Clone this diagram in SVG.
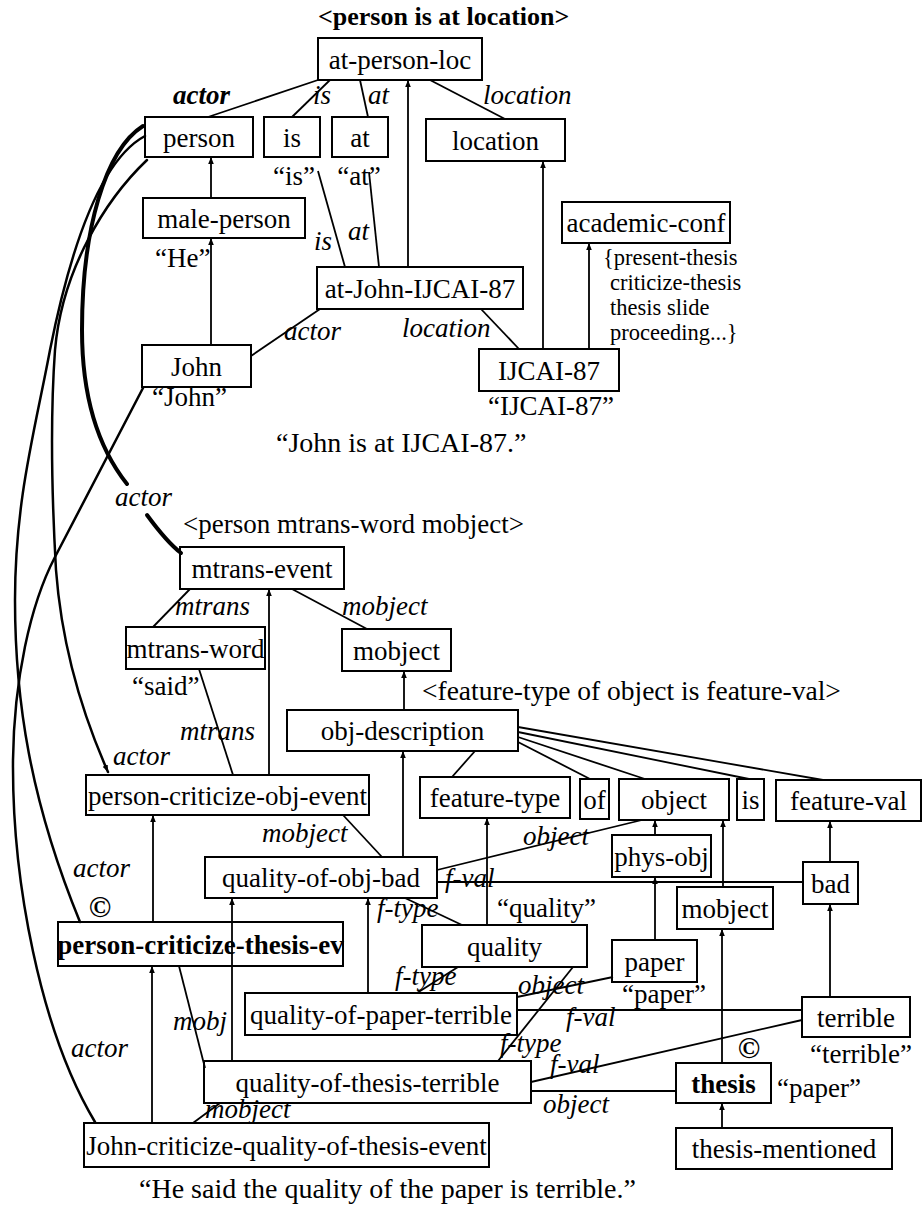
<svg xmlns="http://www.w3.org/2000/svg" width="923" height="1214" viewBox="0 0 923 1214">
<style>
text{font-family:"Liberation Serif","Times New Roman",serif;fill:#000}
.n rect{fill:#fff;stroke:#000;stroke-width:2}
.n text{font-size:27px;text-anchor:middle}
.bt{font-weight:bold}
.lb{font-size:27px;font-style:italic}
.q{font-size:27px}
.br{font-size:22.5px}
.cap{font-size:28px}
.e line,.e path{stroke:#000;stroke-width:1.8;fill:none}
.e .a{marker-end:url(#ah)}
.e .c{stroke-width:2.5;stroke-linecap:round}
.e .ck{stroke-width:4;stroke-linecap:round}
</style>
<defs>
<marker id="ah" viewBox="0 0 10 10" refX="10" refY="5" markerWidth="7" markerHeight="7" orient="auto" markerUnits="userSpaceOnUse"><path d="M0,1 L10,5 L0,9 z" fill="#000"/></marker>
</defs>
<rect width="923" height="1214" fill="#fff"/>

<!-- nodes -->
<g id="n-at-person-loc" class="n"><rect x="318" y="38" width="164" height="42"/><text x="400" y="68.5">at-person-loc</text></g>
<g id="n-person" class="n"><rect x="145" y="117" width="108" height="40"/><text x="199" y="146.5">person</text></g>
<g id="n-is-word" class="n"><rect x="264" y="117" width="56" height="40"/><text x="292" y="146.5">is</text></g>
<g id="n-at-word" class="n"><rect x="332" y="117" width="56" height="40"/><text x="360" y="146.5">at</text></g>
<g id="n-location" class="n"><rect x="426" y="119" width="139" height="42"/><text x="495.5" y="149.5">location</text></g>
<g id="n-male-person" class="n"><rect x="143" y="198" width="162" height="40"/><text x="224" y="227.5">male-person</text></g>
<g id="n-academic-conf" class="n"><rect x="562" y="202" width="168" height="41"/><text x="646" y="232">academic-conf</text></g>
<g id="n-at-John-IJCAI-87" class="n"><rect x="317" y="267" width="206" height="42"/><text x="420" y="297.5">at-John-IJCAI-87</text></g>
<g id="n-John" class="n"><rect x="142" y="345" width="109" height="42"/><text x="196.5" y="375.5">John</text></g>
<g id="n-IJCAI-87" class="n"><rect x="479" y="349" width="140" height="42"/><text x="549" y="379.5">IJCAI-87</text></g>
<g id="n-mtrans-event" class="n"><rect x="180" y="547" width="164" height="42"/><text x="262" y="577.5">mtrans-event</text></g>
<g id="n-mtrans-word" class="n"><rect x="126" y="627" width="139" height="42"/><text x="195.5" y="657.5">mtrans-word</text></g>
<g id="n-mobject" class="n"><rect x="342" y="629" width="109" height="42"/><text x="396.5" y="659.5">mobject</text></g>
<g id="n-obj-description" class="n"><rect x="287" y="710" width="231" height="41"/><text x="402.5" y="740">obj-description</text></g>
<g id="n-person-criticize-obj-event" class="n"><rect x="86" y="775" width="283" height="40"/><text x="227.5" y="804.5">person-criticize-obj-event</text></g>
<g id="n-feature-type" class="n"><rect x="420" y="777" width="150" height="41"/><text x="495" y="807">feature-type</text></g>
<g id="n-of" class="n"><rect x="580" y="779" width="29" height="40"/><text x="594.5" y="808.5">of</text></g>
<g id="n-object" class="n"><rect x="619" y="779" width="110" height="41"/><text x="674" y="809">object</text></g>
<g id="n-is" class="n"><rect x="737" y="779" width="27" height="41"/><text x="750.5" y="809">is</text></g>
<g id="n-feature-val" class="n"><rect x="776" y="780" width="145" height="41"/><text x="848.5" y="810">feature-val</text></g>
<g id="n-phys-obj" class="n"><rect x="612" y="835" width="99" height="42"/><text x="661.5" y="865.5">phys-obj</text></g>
<g id="n-quality-of-obj-bad" class="n"><rect x="205" y="857" width="232" height="41"/><text x="321" y="887">quality-of-obj-bad</text></g>
<g id="n-bad" class="n"><rect x="803" y="862" width="55" height="42"/><text x="830.5" y="892.5">bad</text></g>
<g id="n-mobject-2" class="n"><rect x="677" y="887" width="96" height="42"/><text x="725" y="917.5">mobject</text></g>
<g id="n-person-criticize-thesis-ev" class="n"><rect x="58" y="922" width="285" height="44"/><text class="bt" x="200.5" y="953.5">person-criticize-thesis-ev</text></g>
<g id="n-quality" class="n"><rect x="422" y="925" width="165" height="42"/><text x="504.5" y="955.5">quality</text></g>
<g id="n-paper" class="n"><rect x="612" y="940" width="85" height="42"/><text x="654.5" y="970.5">paper</text></g>
<g id="n-quality-of-paper-terrible" class="n"><rect x="245" y="993" width="272" height="42"/><text x="381" y="1023.5">quality-of-paper-terrible</text></g>
<g id="n-terrible" class="n"><rect x="802" y="997" width="108" height="40"/><text x="856" y="1026.5">terrible</text></g>
<g id="n-quality-of-thesis-terrible" class="n"><rect x="204" y="1061" width="327" height="42"/><text x="367.5" y="1091.5">quality-of-thesis-terrible</text></g>
<g id="n-thesis" class="n"><rect x="676" y="1063" width="95" height="40"/><text class="bt" x="723.5" y="1092.5">thesis</text></g>
<g id="n-John-criticize-quality-of-thesis-event" class="n"><rect x="84" y="1123" width="405" height="44"/><text x="286.5" y="1154.5">John-criticize-quality-of-thesis-event</text></g>
<g id="n-thesis-mentioned" class="n"><rect x="676" y="1128" width="216" height="41"/><text x="784" y="1158">thesis-mentioned</text></g>

<!-- connectors -->
<g id="connectors" class="e">
<line x1="318" y1="80" x2="208" y2="117"/>
<line x1="330" y1="80" x2="292" y2="117"/>
<line x1="360" y1="80" x2="368" y2="117"/>
<line x1="430" y1="80" x2="505" y2="119"/>
<line class="a" x1="211" y1="198" x2="211" y2="157"/>
<line class="a" x1="211" y1="345" x2="211" y2="238"/>
<line class="a" x1="408" y1="267" x2="408" y2="80"/>
<line x1="318" y1="171" x2="345" y2="267"/>
<line x1="369" y1="172" x2="379" y2="267"/>
<line x1="251" y1="356" x2="320" y2="309"/>
<line x1="481" y1="309" x2="519" y2="349"/>
<line class="a" x1="543" y1="349" x2="543" y2="161"/>
<line class="a" x1="589" y1="349" x2="589" y2="243"/>
<path class="ck" d="M143,126 C105,150 82,230 82,330 C82,400 100,450 127,484"/>
<path class="ck" d="M147,515 C158,530 168,543 181,553"/>
<path class="c" d="M145,136 C100,160 70,250 50,350 C35,430 15,500 15,600 C15,700 30,800 80,922"/>
<path class="c a" d="M147,160 C105,200 62,270 55,350 C50,420 52,500 56,570 C62,650 85,720 108,772"/>
<path class="c" d="M143,388 L55,557 C30,605 14,680 13,760 C12,880 40,1030 95,1122"/>
<line x1="190" y1="589" x2="153" y2="627"/>
<line x1="292" y1="589" x2="367" y2="629"/>
<line class="a" x1="404" y1="710" x2="404" y2="671"/>
<line class="a" x1="269" y1="775" x2="269" y2="589"/>
<line x1="199" y1="669" x2="233" y2="775"/>
<line x1="475" y1="751" x2="452" y2="777"/>
<line x1="518" y1="742" x2="590" y2="779"/>
<line x1="518" y1="737" x2="645" y2="779"/>
<line x1="518" y1="732" x2="749" y2="779"/>
<line x1="518" y1="727" x2="823" y2="780"/>
<line class="a" x1="655" y1="835" x2="655" y2="820"/>
<line class="a" x1="723" y1="887" x2="723" y2="820"/>
<line class="a" x1="830" y1="862" x2="830" y2="821"/>
<line class="a" x1="487" y1="925" x2="487" y2="818"/>
<line class="a" x1="403" y1="857" x2="403" y2="751"/>
<line x1="343" y1="815" x2="382" y2="857"/>
<line class="a" x1="153" y1="922" x2="153" y2="815"/>
<line x1="437" y1="870" x2="642" y2="820"/>
<line x1="437" y1="882" x2="803" y2="882"/>
<line x1="405" y1="898" x2="462" y2="925"/>
<line class="a" x1="232" y1="1061" x2="232" y2="898"/>
<line class="a" x1="368" y1="993" x2="368" y2="898"/>
<line class="a" x1="655" y1="940" x2="655" y2="877"/>
<line class="a" x1="722" y1="1063" x2="722" y2="929"/>
<line class="a" x1="830" y1="997" x2="830" y2="904"/>
<line x1="417" y1="993" x2="458" y2="967"/>
<line x1="517" y1="997" x2="613" y2="977"/>
<line x1="517" y1="1010" x2="802" y2="1010"/>
<line x1="498" y1="1061" x2="573" y2="967"/>
<line x1="531" y1="1082" x2="802" y2="1020"/>
<line x1="531" y1="1091" x2="676" y2="1091"/>
<line x1="179" y1="966" x2="205" y2="1068"/>
<line class="a" x1="152" y1="1123" x2="152" y2="966"/>
<line x1="193" y1="1123" x2="220" y2="1103"/>
<line class="a" x1="722" y1="1128" x2="722" y2="1103"/>
</g>

<!-- edge labels -->
<g id="edge-labels" class="lb">
<text x="173" y="104" font-weight="bold">actor</text>
<text x="313" y="104">is</text>
<text x="368" y="104">at</text>
<text x="483" y="104">location</text>
<text x="314" y="250">is</text>
<text x="348" y="240">at</text>
<text x="284" y="340">actor</text>
<text x="402" y="337">location</text>
<text x="115" y="506">actor</text>
<text x="175" y="615">mtrans</text>
<text x="342" y="615">mobject</text>
<text x="180" y="740">mtrans</text>
<text x="113" y="765">actor</text>
<text x="262" y="842">mobject</text>
<text x="523" y="845">object</text>
<text x="73" y="877">actor</text>
<text x="445" y="887">f-val</text>
<text x="377" y="917">f-type</text>
<text x="395" y="985">f-type</text>
<text x="518" y="994">object</text>
<text x="566" y="1026">f-val</text>
<text x="173" y="1030">mobj</text>
<text x="500" y="1052">f-type</text>
<text x="71" y="1057">actor</text>
<text x="550" y="1073">f-val</text>
<text x="543" y="1113">object</text>
<text x="205" y="1118">mobject</text>
</g>

<!-- word labels and captions -->
<g id="texts">
<text x="318" y="25" font-size="26" font-weight="bold">&lt;person is at location&gt;</text>
<text class="q" x="294" y="185" text-anchor="middle">“is”</text>
<text class="q" x="359" y="185" text-anchor="middle">“at”</text>
<text class="q" x="155" y="267">“He”</text>
<text class="q" x="152" y="406">“John”</text>
<text class="q" x="488" y="415">“IJCAI-87”</text>
<text class="br" x="603" y="265">{present-thesis</text>
<text class="br" x="610" y="290">criticize-thesis</text>
<text class="br" x="610" y="315">thesis slide</text>
<text class="br" x="610" y="340">proceeding...}</text>
<text class="cap" x="276" y="452">“John is at IJCAI-87.”</text>
<text class="q" x="183" y="533">&lt;person mtrans-word mobject&gt;</text>
<text class="q" x="132" y="695">“said”</text>
<text x="422" y="700" font-size="27.5">&lt;feature-type of object is feature-val&gt;</text>
<text x="100" y="917" font-size="30" font-weight="bold" text-anchor="middle">©</text>
<text class="q" x="497" y="917">“quality”</text>
<text class="q" x="622" y="1003">“paper”</text>
<text x="749" y="1058" font-size="30" font-weight="bold" text-anchor="middle">©</text>
<text class="q" x="810" y="1063">“terrible”</text>
<text class="q" x="777" y="1097">“paper”</text>
<text class="cap" x="139" y="1198">“He said the quality of the paper is terrible.”</text>
</g>
</svg>
